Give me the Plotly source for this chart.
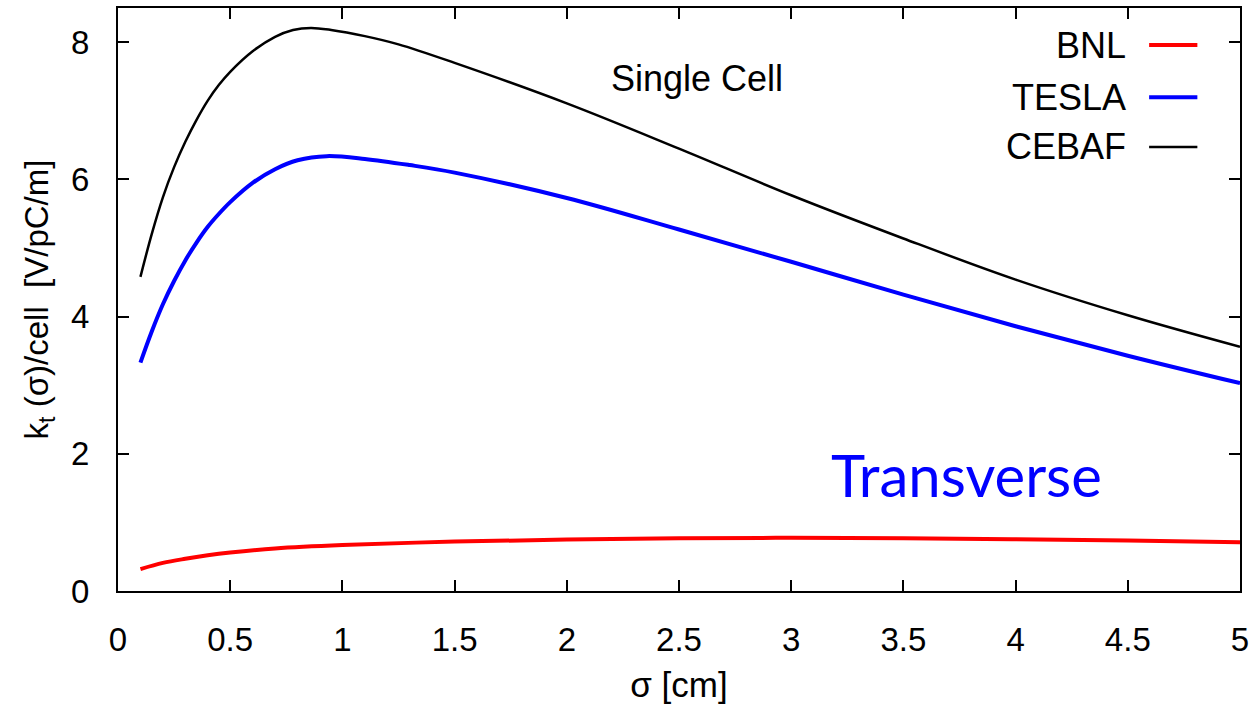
import plotly.graph_objects as go

# Bunch length sigma [cm] and transverse loss factor per cell [V/pC/m]
sigma_bnl = [0.1, 0.2, 0.3, 0.4, 0.5, 0.7, 1.0, 1.5, 2.0, 2.5, 3.0, 3.5, 4.0, 4.5, 5.0]
k_bnl = [0.32, 0.41, 0.47, 0.52, 0.56, 0.62, 0.67, 0.72, 0.75, 0.77, 0.775, 0.77,
         0.755, 0.735, 0.71]

sigma_tesla = [0.1, 0.15, 0.2, 0.25, 0.3, 0.35, 0.4, 0.45, 0.5, 0.6, 0.7, 0.8, 0.93,
               1.1, 1.3, 1.5, 2.0, 2.5, 3.0, 3.5, 4.0, 4.5, 5.0]
k_tesla = [3.33, 3.78, 4.18, 4.52, 4.82, 5.08, 5.31, 5.50, 5.67, 5.95, 6.15, 6.28, 6.34,
           6.30, 6.21, 6.10, 5.73, 5.27, 4.80, 4.32, 3.86, 3.43, 3.03]

sigma_cebaf = [0.1, 0.15, 0.2, 0.25, 0.3, 0.35, 0.4, 0.45, 0.5, 0.6, 0.7, 0.78, 0.86,
               0.95, 1.1, 1.25, 1.5, 2.0, 2.5, 3.0, 3.5, 4.0, 4.5, 5.0]
k_cebaf = [4.58, 5.20, 5.74, 6.18, 6.55, 6.87, 7.15, 7.38, 7.57, 7.87, 8.08, 8.18, 8.21,
           8.18, 8.09, 7.97, 7.70, 7.11, 6.45, 5.77, 5.14, 4.54, 4.02, 3.56]

series_names = ["BNL", "TESLA", "CEBAF"]
series_colors = ["#ff0000", "#0000ff", "#000000"]
series_widths = [4, 4, 2.5]

x_ticks = [0, 0.5, 1, 1.5, 2, 2.5, 3, 3.5, 4, 4.5, 5]
x_tick_text = ["0", "0.5", "1", "1.5", "2", "2.5", "3", "3.5", "4", "4.5", "5"]
y_ticks = [0, 2, 4, 6, 8]

FONT = "Liberation Sans, Arial, Helvetica, sans-serif"

fig = go.Figure()
for name, xs, ys, color, width in zip(
        series_names,
        [sigma_bnl, sigma_tesla, sigma_cebaf],
        [k_bnl, k_tesla, k_cebaf],
        series_colors, series_widths):
    fig.add_trace(go.Scatter(
        x=xs, y=ys, mode="lines", name=name, showlegend=False,
        line=dict(color=color, width=width, shape="spline", smoothing=1.0),
    ))

# Key in the upper right: label right-aligned, sample line to its right
key_rows_y = [0.9365, 0.847, 0.7616]
for name, color, width, ky in zip(series_names, series_colors, series_widths, key_rows_y):
    fig.add_annotation(
        xref="paper", yref="paper", x=0.9005, y=ky, xanchor="right", yanchor="middle",
        text=name, showarrow=False, font=dict(family=FONT, size=36, color="black"),
    )
    fig.add_shape(
        type="line", xref="paper", yref="paper",
        x0=0.919, x1=0.962, y0=ky, y1=ky,
        line=dict(color=color, width=width),
    )

fig.add_annotation(
    x=2.58, y=7.47, text="Single Cell", showarrow=False,
    xanchor="center", yanchor="middle",
    font=dict(family=FONT, size=36, color="black"),
)
fig.add_annotation(
    x=3.78, y=1.7, text="Transverse", showarrow=False,
    xanchor="center", yanchor="middle",
    font=dict(family="Lato, Noto Sans, sans-serif", size=58, color="#0000ff"),
)

axis_common = dict(
    showline=True, linecolor="black", linewidth=2, mirror="ticks",
    ticks="inside", ticklen=11, tickwidth=1.5, tickcolor="black",
    showgrid=False, zeroline=False, automargin=False,
    tickfont=dict(family=FONT, size=33, color="black"),
)

fig.update_xaxes(
    range=[0, 5], tickvals=x_ticks, ticktext=x_tick_text,
    ticklabelstandoff=18,
    title=dict(text="σ [cm]", font=dict(family=FONT, size=35, color="black"), standoff=18),
    **axis_common,
)
fig.update_yaxes(
    range=[0, 8.5], tickvals=y_ticks,
    ticklabelstandoff=20,
    title=dict(text="k<sub>t</sub> (σ)/cell  [V/pC/m]",
               font=dict(family=FONT, size=33, color="black"), standoff=12),
    **axis_common,
)

fig.update_layout(
    width=1256, height=704,
    margin=dict(l=118, r=16, t=8, b=113),
    paper_bgcolor="white", plot_bgcolor="white",
    showlegend=False,
)

fig.write_html("out.html")
